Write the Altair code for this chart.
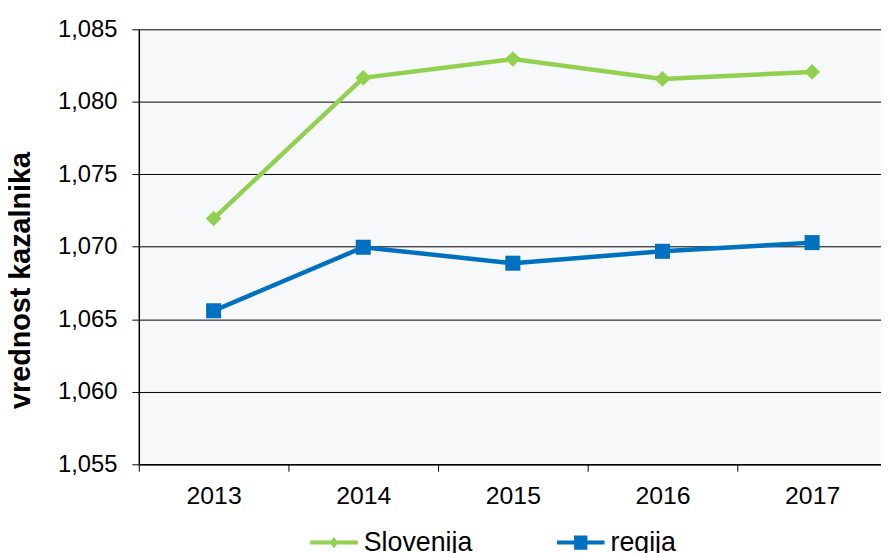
import altair as alt
import pandas as pd

years = ["2013", "2014", "2015", "2016", "2017"]
slovenija = [1.07195, 1.08165, 1.08295, 1.08158, 1.08206]
regija = [1.06559, 1.06997, 1.06887, 1.06969, 1.07029]
series_names = ["Slovenija", "regija"]
series_colors = ["#92D050", "#0070C0"]
y_ticks = [1.055, 1.060, 1.065, 1.070, 1.075, 1.080, 1.085]

rows = []
for name, vals in zip(series_names, [slovenija, regija]):
    for yr, v in zip(years, vals):
        rows.append({"leto": yr, "vrednost": v, "serija": name})
df = pd.DataFrame(rows)

FONT = "Liberation Sans"

# legend symbols: a line with the marker on it
leg_paths = [
    "M-1,-0.085L1,-0.085L1,0.085L-1,0.085Z M0,-0.24L0.19,0L0,0.24L-0.19,0Z",
    "M-1,-0.085L1,-0.085L1,0.085L-1,0.085Z M-0.28,-0.3L0.28,-0.3L0.28,0.3L-0.28,0.3Z",
]

x_enc = alt.X(
    "leto:N",
    sort=years,
    scale=alt.Scale(type="band", range=[0, 755], paddingInner=0, paddingOuter=0),
    axis=alt.Axis(
        title=None,
        tickBand="extent",
        grid=False,
        labelAngle=0,
        labelFontSize=25,
        labelFont=FONT,
        labelColor="#000000",
        labelPadding=13,
        tickSize=7,
        tickColor="#000000",
        domainColor="#000000",
        domainWidth=1.5,
        labelOverlap=False,
    ),
)
y_enc = alt.Y(
    "vrednost:Q",
    scale=alt.Scale(domain=[1.055, 1.085], nice=False, zero=False),
    axis=alt.Axis(
        values=y_ticks,
        title="vrednost kazalnika",
        titleFont=FONT,
        titleFontSize=29,
        titleFontWeight="bold",
        titleColor="#000000",
        titleAngle=270,
        titleAlign="center",
        titleBaseline="middle",
        titleX=-119,
        titleY=253,
        labelExpr="replace(format(datum.value, '.3f'), '.', ',')",
        labelFontSize=24,
        labelFont=FONT,
        labelColor="#000000",
        labelPadding=15,
        tickSize=7,
        tickColor="#000000",
        domainColor="#000000",
        domainWidth=1.5,
        grid=True,
        gridColor="#000000",
        gridWidth=1,
    ),
)

base = alt.Chart(df)

layers = []
for name, col, shp, sz in zip(series_names, series_colors, ["diamond", "square"], [250, 230]):
    sub = base.transform_filter(alt.datum.serija == name)
    layers.append(sub.mark_line(strokeWidth=4.5, color=col).encode(x=x_enc, y=y_enc))
    layers.append(
        sub.mark_point(shape=shp, filled=True, size=sz, opacity=1, color=col).encode(x=x_enc, y=y_enc)
    )

leg = dict(
    title=None,
    orient="none",
    legendX=173,
    legendY=494,
    direction="horizontal",
    columns=2,
    labelFont=FONT,
    labelFontSize=27,
    labelColor="#000000",
    labelOffset=6,
    symbolSize=2304,
    symbolStrokeWidth=0,
    symbolOpacity=1,
    columnPadding=85,
)
legend_layer = base.mark_point(filled=True, opacity=0, size=0).encode(
    x=x_enc,
    y=y_enc,
    color=alt.Color("serija:N", scale=alt.Scale(domain=series_names, range=series_colors), legend=alt.Legend(**leg)),
    shape=alt.Shape("serija:N", scale=alt.Scale(domain=series_names, range=leg_paths), legend=alt.Legend(**leg)),
)
layers.append(legend_layer)

chart = (
    alt.layer(*layers)
    .properties(
        width=749,
        height=439,
        autosize=alt.AutoSizeParams(type="none"),
        padding={"left": 132, "top": 19, "right": 0, "bottom": 87},
        background="#ffffff",
    )
    .configure_view(fill="#F7F8FA", strokeWidth=0)
)

chart.save("out.html", embed_options={"renderer": "svg", "actions": False})
